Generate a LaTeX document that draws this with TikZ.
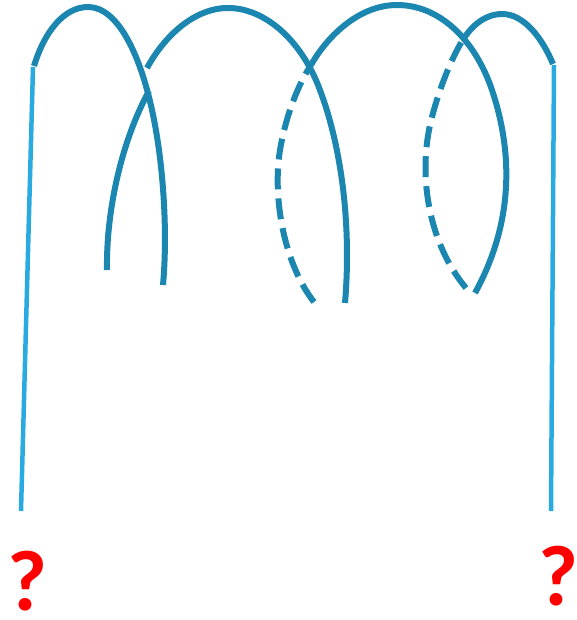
\documentclass[tikz,border=0pt]{standalone}
\usepackage{fontspec}
\setmainfont{Carlito}
\definecolor{strand}{HTML}{1B86AF}
\definecolor{lightline}{HTML}{29ABE2}
\begin{document}
\begin{tikzpicture}[x=1pt,y=-1pt,
  strandline/.style={draw=strand,line width=6pt},
  hidden/.style={strandline,dash pattern=on 21pt off 9pt},
  pole/.style={draw=lightline,line width=4.5pt},
  qmark/.style={text=red,font=\bfseries\fontsize{86}{86}\selectfont,inner sep=0pt}]
\useasboundingbox (0,0) rectangle (577,620);
\coordinate (Ltop) at (33,67); \coordinate (Lbot) at (21,511);
\coordinate (Rtop) at (554,65); \coordinate (Rbot) at (551,511);
\draw[pole] (Ltop) -- (Lbot);
\draw[pole] (Rtop) -- (Rbot);
% strand A
\draw[strandline] (34,66) .. controls (45,30) and (65,7) .. (88,7)
  .. controls (118,7) and (140,55) .. (152,110)
  .. controls (163,160) and (168,230) .. (163,285);
% strand B lower part
\draw[strandline] (107,270) .. controls (106,210) and (122,140) .. (149,91);
% strand B upper part
\draw[strandline] (147,68) .. controls (165,35) and (195,8) .. (228,8)
  .. controls (265,8) and (300,40) .. (318,85)
  .. controls (340,140) and (352,220) .. (345,303);
% strand C
\draw[hidden] (314,302) .. controls (285,265) and (272,200) .. (280,150)
  .. controls (286,115) and (298,85) .. (311,65);
\draw[strandline] (311,65) .. controls (328,35) and (360,5) .. (397,5)
  .. controls (440,5) and (475,40) .. (492,90)
  .. controls (512,150) and (515,220) .. (475,293);
% strand D
\draw[hidden] (466,288) .. controls (430,245) and (418,180) .. (430,125)
  .. controls (437,95) and (450,60) .. (464,38);
\draw[strandline] (464,38) .. controls (475,22) and (488,14) .. (502,14)
  .. controls (525,14) and (543,40) .. (553,64);
\node[qmark] (q1) at (27,581) {?};
\node[qmark] (q2) at (558,576) {?};
\end{tikzpicture}
\end{document}
